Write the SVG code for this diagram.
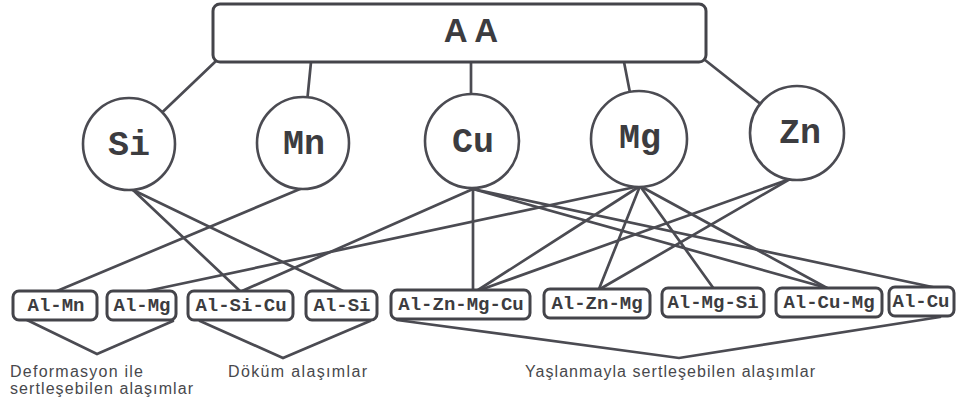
<svg xmlns="http://www.w3.org/2000/svg" width="957" height="403" viewBox="0 0 957 403">
<style>
.ln{stroke:#4b4b52;stroke-width:2.7;fill:none;stroke-linecap:round}
.nd{fill:#fff;stroke:#4b4b52;stroke-width:2.6}
.bx{fill:#fff;stroke:#44444a;stroke-width:3}
.el{font-family:"Liberation Mono",monospace;font-weight:bold;font-size:35px;fill:#3c3c40;text-anchor:middle}
.al{font-family:"Liberation Mono",monospace;font-weight:bold;font-size:19px;fill:#3c3c40;text-anchor:middle}
.gp{font-family:"Liberation Sans",Arial,sans-serif;font-size:16px;fill:#48484c}
</style>
<rect width="957" height="403" fill="#fff"/>
<g id="connectors">
<line class="ln" x1="216" y1="61" x2="129" y2="144"/>
<line class="ln" x1="311" y1="62" x2="303" y2="143"/>
<line class="ln" x1="471" y1="62" x2="471" y2="141"/>
<line class="ln" x1="624" y1="62" x2="639" y2="139"/>
<line class="ln" x1="705" y1="60" x2="797" y2="133"/>
<line class="ln" x1="300" y1="189" x2="57" y2="291"/>
<line class="ln" x1="133" y1="190" x2="240" y2="291"/>
<line class="ln" x1="133" y1="190" x2="343" y2="291"/>
<line class="ln" x1="473" y1="189" x2="242" y2="291"/>
<line class="ln" x1="473" y1="189" x2="473" y2="290"/>
<line class="ln" x1="473" y1="189" x2="827" y2="288"/>
<line class="ln" x1="473" y1="189" x2="937" y2="288"/>
<line class="ln" x1="640" y1="186" x2="147" y2="291"/>
<line class="ln" x1="640" y1="186" x2="478" y2="290"/>
<line class="ln" x1="640" y1="186" x2="599" y2="289"/>
<line class="ln" x1="640" y1="186" x2="714" y2="289"/>
<line class="ln" x1="640" y1="186" x2="827" y2="288"/>
<line class="ln" x1="790" y1="179" x2="480" y2="290"/>
<line class="ln" x1="790" y1="179" x2="600" y2="289"/>
<polyline class="ln" points="27,320 97,354 173,321"/>
<polyline class="ln" points="200,321 283,358 370,321"/>
<polyline class="ln" points="397,320 679,358 940,317"/>
</g>
<g id="AA">
<rect class="bx" x="213" y="4" width="493" height="58" rx="7"/>
<text x="471" y="42" font-family="Liberation Sans,Arial,sans-serif" font-weight="bold" font-size="33" fill="#3c3c40" text-anchor="middle">A A</text>
</g>
<g id="Si"><circle class="nd" cx="129" cy="144" r="46"/><text class="el" x="129" y="155">Si</text></g>
<g id="Mn"><circle class="nd" cx="303" cy="143" r="46"/><text class="el" x="304" y="154">Mn</text></g>
<g id="Cu"><circle class="nd" cx="472" cy="141" r="47"/><text class="el" x="473" y="152">Cu</text></g>
<g id="Mg"><circle class="nd" cx="639" cy="139" r="48"/><text class="el" x="640" y="148">Mg</text></g>
<g id="Zn"><circle class="nd" cx="797" cy="133" r="47"/><text class="el" x="800" y="143">Zn</text></g>
<g id="Al-Mn"><rect class="bx" x="13" y="291" width="84" height="29" rx="6"/><text class="al" x="56" y="311">Al-Mn</text></g>
<g id="Al-Mg"><rect class="bx" x="107" y="291" width="69" height="29" rx="6"/><text class="al" x="142" y="311">Al-Mg</text></g>
<g id="Al-Si-Cu"><rect class="bx" x="188" y="291" width="105" height="29" rx="6"/><text class="al" x="241" y="311">Al-Si-Cu</text></g>
<g id="Al-Si"><rect class="bx" x="306" y="291" width="71" height="29" rx="6"/><text class="al" x="342" y="311">Al-Si</text></g>
<g id="Al-Zn-Mg-Cu"><rect class="bx" x="391" y="290" width="139" height="29" rx="6"/><text class="al" x="461" y="310">Al-Zn-Mg-Cu</text></g>
<g id="Al-Zn-Mg"><rect class="bx" x="544" y="289" width="106" height="29" rx="6"/><text class="al" x="597" y="309">Al-Zn-Mg</text></g>
<g id="Al-Mg-Si"><rect class="bx" x="662" y="288" width="102" height="29" rx="6"/><text class="al" x="713" y="308">Al-Mg-Si</text></g>
<g id="Al-Cu-Mg"><rect class="bx" x="776" y="288" width="106" height="29" rx="6"/><text class="al" x="829" y="308">Al-Cu-Mg</text></g>
<g id="Al-Cu"><rect class="bx" x="889" y="287" width="65" height="29" rx="6"/><text class="al" x="921" y="307">Al-Cu</text></g>
<g id="labels">
<text class="gp" x="10" y="377" textLength="133" lengthAdjust="spacing">Deformasyon ile</text>
<text class="gp" x="10" y="394" textLength="183" lengthAdjust="spacing">sertleşebilen alaşımlar</text>
<text class="gp" x="228" y="377" textLength="139" lengthAdjust="spacing">Döküm alaşımlar</text>
<text class="gp" x="525" y="377" textLength="290" lengthAdjust="spacing">Yaşlanmayla sertleşebilen alaşımlar</text>
</g>
</svg>
